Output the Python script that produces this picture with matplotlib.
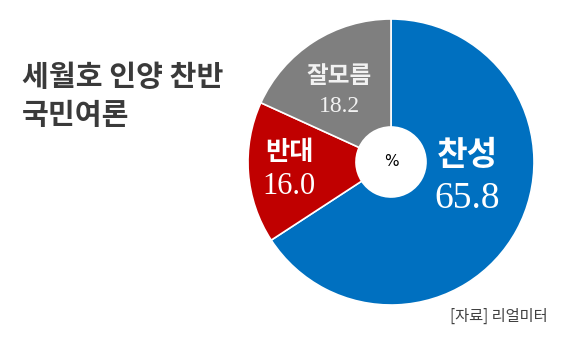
import matplotlib.pyplot as plt

plt.rcParams['font.family'] = ['Noto Sans CJK KR', 'DejaVu Sans']

# data
categories = ['찬성', '반대', '잘모름']
values = [65.8, 16.0, 18.2]
colors = ['#0070C0', '#C00000', '#7F7F7F']
title_lines = ['세월호 인양 찬반', '국민여론']
source = '[자료] 리얼미터'

fig = plt.figure(figsize=(5.8, 3.51), dpi=100)
ax = fig.add_axes([0, 0, 1, 1])

cx, cy, r = 391, 189, 143
ax.pie(values, colors=colors, startangle=90, counterclock=False,
       center=(cx, cy), radius=r,
       wedgeprops=dict(width=r - 35, edgecolor='white', linewidth=1.2))
ax.set_xlim(0, 580)
ax.set_ylim(0, 351)
ax.set_aspect('equal')
ax.axis('off')

ax.text(cx, cy, '%', ha='center', va='center', fontsize=11, color='black',
        family='DejaVu Sans')

# labels
ax.text(467, 351 - 155, categories[0], ha='center', va='center',
        fontsize=24, fontweight='bold', color='white')
ax.text(467, 351 - 199, f'{values[0]:.1f}', ha='center', va='center',
        fontsize=27, color='white', family='Liberation Serif')
ax.text(289, 351 - 152, categories[1], ha='center', va='center',
        fontsize=19, fontweight='bold', color='white')
ax.text(289, 351 - 187, f'{values[1]:.1f}', ha='center', va='center',
        fontsize=22, color='white', family='Liberation Serif')
ax.text(339, 351 - 76, categories[2], ha='center', va='center',
        fontsize=17, fontweight='bold', color='#F2F2F2')
ax.text(339, 351 - 106, f'{values[2]:.1f}', ha='center', va='center',
        fontsize=17, color='#F2F2F2', family='Liberation Serif')

# title
ax.text(22, 351 - 77, title_lines[0], ha='left', va='center',
        fontsize=21, color='#3A3A3A', fontweight='bold')
ax.text(22, 351 - 115, title_lines[1], ha='left', va='center',
        fontsize=21, color='#3A3A3A', fontweight='bold')

ax.text(499, 351 - 316, source, ha='center', va='center',
        fontsize=11, color='#404040', fontweight='medium')

fig.savefig('out.png', dpi=100)
